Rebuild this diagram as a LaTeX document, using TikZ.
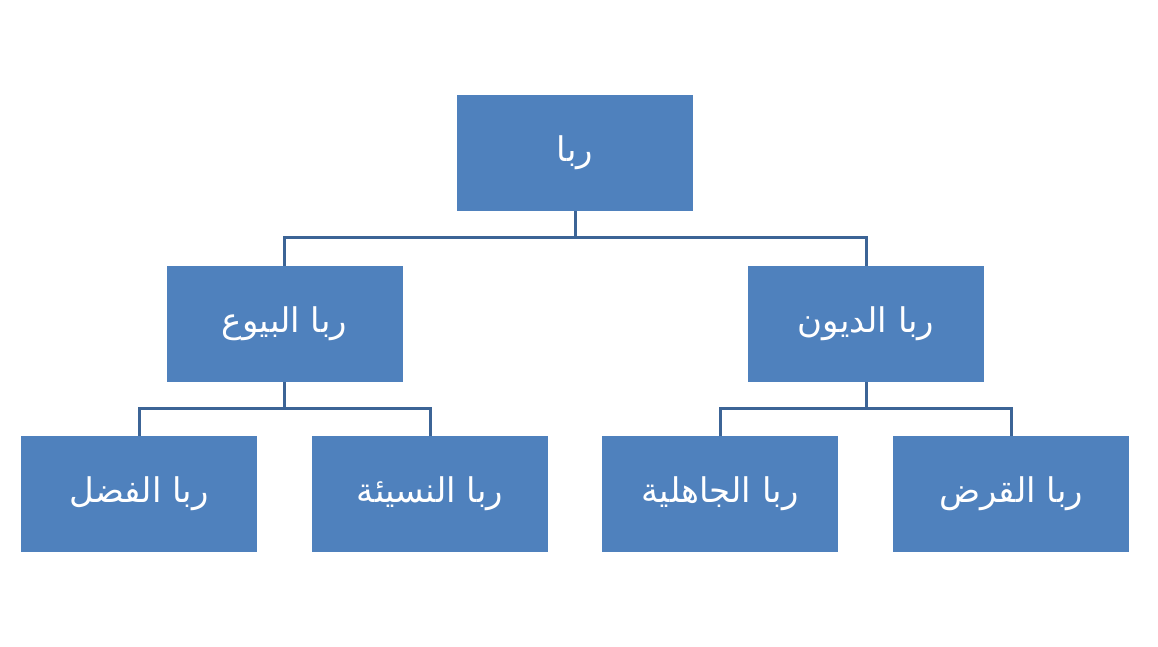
\documentclass[tikz,border=0pt]{standalone}
\usepackage{fontspec}
\usepackage{tikz}
\newfontfamily\arabicfont[Script=Arabic]{DejaVu Sans}
\TeXXeTstate=1
\definecolor{boxblue}{HTML}{4F81BD}
\definecolor{lineblue}{HTML}{3C6496}

\begin{document}
\begin{tikzpicture}[x=1pt,y=1pt, box/.style = {fill=boxblue, minimum width=236pt, minimum height=116pt, inner sep=0pt, text=white, font=\fontsize{34}{40}\selectfont\arabicfont}, link/.style = {draw=lineblue, line width=3pt}]
      \useasboundingbox (0,0) rectangle (1158,647);
      \node[box] (riba) at (575,494) {\beginR ربا\endR};
      \node[box] (buyu) at (284.5,323) {\beginR ربا البيوع\endR};
      \node[box] (duyun) at (866,323) {\beginR ربا الديون\endR};
      \node[box] (fadl) at (139,153) {\beginR ربا الفضل\endR};
      \node[box] (nasia) at (430,153) {\beginR ربا النسيئة\endR};
      \node[box] (jahiliya) at (720,153) {\beginR ربا الجاهلية\endR};
      \node[box] (qard) at (1011,153) {\beginR ربا القرض\endR};

      \draw[link] (riba.south) -- ++(0,-26) -| (buyu.north);
      \draw[link] (riba.south) -- ++(0,-26) -| (duyun.north);
      \draw[link] (buyu.south) -- ++(0,-26) -| (fadl.north);
      \draw[link] (buyu.south) -- ++(0,-26) -| (nasia.north);
      \draw[link] (duyun.south) -- ++(0,-26) -| (jahiliya.north);
      \draw[link] (duyun.south) -- ++(0,-26) -| (qard.north);
    \end{tikzpicture}
\end{document}
